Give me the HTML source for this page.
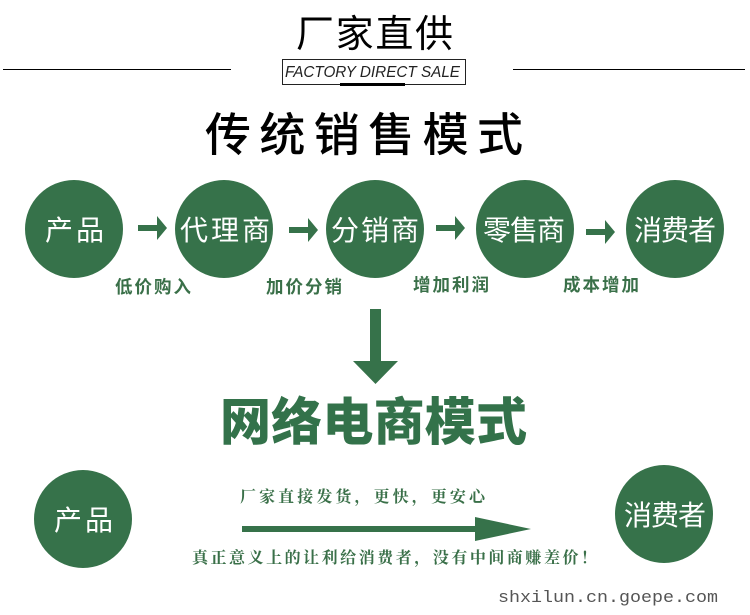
<!DOCTYPE html>
<html><head><meta charset="utf-8">
<style>
html,body{margin:0;padding:0;background:#fff;width:750px;height:615px;overflow:hidden}
svg{display:block}
text{font-family:"Liberation Sans","Noto Sans CJK SC",sans-serif}
.w{fill:#fff;font-size:28px}
.g{fill:#3a7049;font-size:17.5px;font-weight:700}
.s{fill:#3a7049;font-family:"Noto Serif CJK SC",serif;font-size:16px;font-weight:700}
</style></head><body>
<svg width="750" height="615" viewBox="0 0 750 615" xmlns="http://www.w3.org/2000/svg">
<text x="296" y="47" font-size="38" textLength="157" lengthAdjust="spacing" style="font-weight:400">厂家直供</text>
<rect x="3" y="69" width="228" height="1" fill="#000"/>
<rect x="513" y="69" width="232" height="1" fill="#000"/>
<rect x="282.5" y="59.5" width="183" height="25" fill="#fff" stroke="#222" stroke-width="1"/>
<rect x="340" y="83" width="65" height="3" fill="#000"/>
<text x="285" y="77" font-size="16" font-style="italic" fill="#222" textLength="175" lengthAdjust="spacingAndGlyphs">FACTORY DIRECT SALE</text>
<text x="205" y="151" font-size="46" textLength="318" lengthAdjust="spacing" style="font-weight:500">传统销售模式</text>

<g fill="#36724a">
<circle cx="74" cy="229" r="49"/>
<circle cx="224" cy="229" r="49"/>
<circle cx="375" cy="229" r="49"/>
<circle cx="525" cy="229" r="49"/>
<circle cx="675" cy="229" r="49"/>
<circle cx="83" cy="519" r="49"/>
<circle cx="664" cy="514" r="49"/>
</g>
<text class="w" x="45" y="240" textLength="59">产品</text>
<text class="w" x="180" y="240" textLength="90">代理商</text>
<text class="w" x="331" y="240" textLength="88">分销商</text>
<text class="w" x="483" y="240" textLength="82">零售商</text>
<text class="w" x="634" y="240" textLength="82">消费者</text>
<text class="w" x="54" y="530" textLength="59">产品</text>
<text class="w" x="624" y="525" textLength="82">消费者</text>

<g fill="#36724a">
<path d="M138 225h19v-9l10 12-10 12v-9h-19z"/>
<path d="M289 227h19v-9l10 12-10 12v-9h-19z"/>
<path d="M436 225h19v-9l10 12-10 12v-9h-19z"/>
<path d="M586 229h19v-9l10 12-10 12v-9h-19z"/>
<path d="M370 309h11v52h17l-22.500 23-22.500-23h17z"/>
<path d="M242 526h233v-9l56 12-56 12v-9h-233z"/>
</g>
<text class="g" x="115" y="293" textLength="76">低价购入</text>
<text class="g" x="266" y="293" textLength="76">加价分销</text>
<text class="g" x="413" y="291" textLength="76">增加利润</text>
<text class="g" x="563" y="291" textLength="76">成本增加</text>

<text x="220" y="440" font-size="51" fill="#33724a" textLength="307" style="font-weight:900">网络电商模式</text>

<text class="s" x="240" y="502" textLength="245">厂家直接发货，更快，更安心</text>
<text class="s" x="192" y="563" textLength="405">真正意义上的让利给消费者，没有中间商赚差价！</text>
<text x="498" y="602" font-size="17" fill="#555" style="font-family:'Liberation Mono',monospace" textLength="220" lengthAdjust="spacingAndGlyphs">shxilun.cn.goepe.com</text>
</svg>
</body></html>
